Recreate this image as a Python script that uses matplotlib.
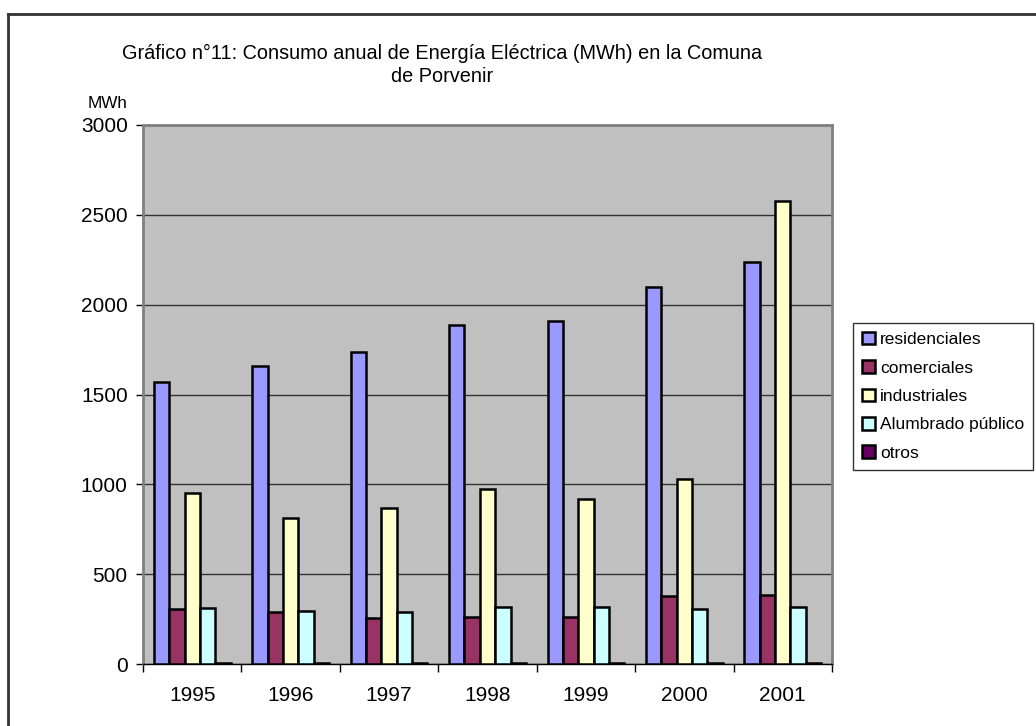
import numpy as np
import matplotlib.pyplot as plt
from matplotlib.lines import Line2D

plt.rcParams['font.family'] = ['Liberation Sans', 'DejaVu Sans']

years = ['1995', '1996', '1997', '1998', '1999', '2000', '2001']
series_names = ['residenciales', 'comerciales', 'industriales', 'Alumbrado público', 'otros']
residenciales = [1571, 1660, 1736, 1885, 1910, 2096, 2235]
comerciales = [306, 291, 254, 260, 260, 378, 386]
industriales = [950, 810, 870, 975, 920, 1030, 2578]
alumbrado = [310, 295, 291, 319, 319, 308, 316]
otros = [6, 7, 6, 6, 6, 6, 6]
colors = ['#9999FF', '#993366', '#FFFFCC', '#CCFFFF', '#660066']

fig = plt.figure(figsize=(10.36, 7.26), dpi=100)
ax = fig.add_axes([143 / 1036, 62 / 726, 689 / 1036, 539 / 726])
ax.set_facecolor('#C0C0C0')

x = np.arange(len(years))
w = 0.156
for i, (vals, name, c) in enumerate(zip([residenciales, comerciales, industriales, alumbrado, otros],
                                         series_names, colors)):
    ax.bar(x + (i - 2) * w, vals, w, color=c, edgecolor='black', linewidth=1.8,
           label=name, zorder=3)

ax.set_xlim(-0.5, len(years) - 0.5)
ax.set_ylim(0, 3000)
ax.set_yticks(range(0, 3001, 500))
ax.yaxis.grid(True, color='#333333', linewidth=1, zorder=1)
ax.tick_params(axis='y', labelsize=15, length=5, width=1, pad=6)

# year labels centred, tick marks on category boundaries
ax.set_xticks(np.arange(-0.5, len(years), 1))
ax.set_xticklabels([])
ax.set_xticks(x, minor=True)
ax.set_xticklabels(years, minor=True)
ax.tick_params(axis='x', which='major', length=6, width=1)
ax.tick_params(axis='x', which='minor', length=0, labelsize=15, pad=16)

for s in ['left', 'top', 'right']:
    ax.spines[s].set_color('#808080')
    ax.spines[s].set_linewidth(2)
ax.spines['bottom'].set_color('black')
ax.spines['bottom'].set_linewidth(1)

leg = ax.legend(loc='upper left', bbox_to_anchor=(853 / 1036, 1 - 323 / 726),
                bbox_transform=fig.transFigure, fontsize=12.5, frameon=True,
                fancybox=False, edgecolor='black', handlelength=0.75, handleheight=0.75,
                handletextpad=0.3, labelspacing=0.75, borderpad=0.5, borderaxespad=0)
leg.get_frame().set_linewidth(1)

# title in two lines, as in the reference
fig.text(442 / 1036, 1 - 59 / 726,
         'Gráfico n°11: Consumo anual de Energía Eléctrica (MWh) en la Comuna',
         ha='center', va='baseline', fontsize=14.3)
fig.text(442 / 1036, 1 - 82 / 726, 'de Porvenir', ha='center', va='baseline', fontsize=14.3)
fig.text(108 / 1036, 1 - 104 / 726, 'MWh', ha='center', va='center', fontsize=12.3)

# outer chart frame (only top and left visible in the crop)
fig.add_artist(Line2D([7.5 / 1036, 7.5 / 1036], [-0.01, 1 - 14 / 726], color='#333333', lw=2))
fig.add_artist(Line2D([7.5 / 1036, 1.01], [1 - 14 / 726, 1 - 14 / 726], color='#333333', lw=2))

fig.savefig('out.png', dpi=100)
